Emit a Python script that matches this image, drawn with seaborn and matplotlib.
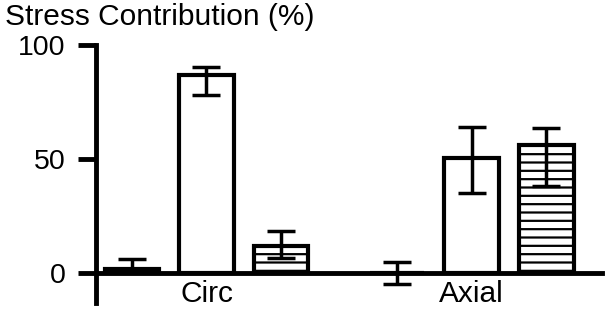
import numpy as np
import pandas as pd
import matplotlib
matplotlib.use("Agg")
import matplotlib.pyplot as plt
import seaborn as sns

# Data
kelompok = ["Circ", "Axial"]
seri = ["A", "B", "C"]
circ_mean = [1.5, 87, 12]
circ_lo = [1.5, 78, 6.5]
circ_hi = [6, 90.5, 18.5]
axial_mean = [0, 50.5, 56]
axial_lo = [-5, 35, 38]
axial_hi = [5, 64, 63.5]
yticks = [0, 50, 100]

df = pd.DataFrame({
    "kelompok": ["Circ"] * 3 + ["Axial"] * 3,
    "seri": seri * 2,
    "nilai": circ_mean + axial_mean,
    "lo": circ_lo + axial_lo,
    "hi": circ_hi + axial_hi,
})

sns.set_style("ticks")
plt.rcParams["font.family"] = ["Liberation Sans", "DejaVu Sans"]
plt.rcParams["hatch.color"] = "black"
plt.rcParams["hatch.linewidth"] = 1.6
for k in ["axes.edgecolor", "xtick.color", "ytick.color", "text.color",
          "axes.labelcolor"]:
    plt.rcParams[k] = "black"

fig = plt.figure(figsize=(6.07, 3.13), dpi=100)
ax = fig.add_axes([0.158, 0.032, 0.834, 0.824])

sns.barplot(data=df, x="kelompok", y="nilai", hue="seri", order=kelompok,
            hue_order=seri, palette=["white"] * 3, edgecolor="black",
            linewidth=3, width=0.845, gap=0.27, errorbar=None,
            legend=False, ax=ax)

bar_conts = list(ax.containers)

# hatch garis horizontal untuk seri ketiga
for bar in bar_conts[2]:
    bar.set_hatch("--")

# error bar asimetris
for i, cont in enumerate(bar_conts):
    for j, bar in enumerate(cont):
        row = df[(df["kelompok"] == kelompok[j]) & (df["seri"] == seri[i])].iloc[0]
        x = bar.get_x() + bar.get_width() / 2
        m = row["nilai"]
        ax.errorbar(x, m, yerr=[[m - row["lo"]], [row["hi"] - m]], fmt="none",
                    ecolor="black", elinewidth=2.5, capsize=10, capthick=2.5,
                    zorder=5)

ax.set_xlim(-0.417, 1.492)
ax.set_ylim(-13.2, 100)
ax.set_yticks(yticks)
ax.set_xlabel("")
ax.set_ylabel("")
ax.spines["bottom"].set_position(("data", 0))
ax.spines["bottom"].set_zorder(6)
for s in ["left", "bottom"]:
    ax.spines[s].set_linewidth(3.5)
for s in ["top", "right"]:
    ax.spines[s].set_visible(False)
ax.tick_params(axis="y", length=13, width=3.5, pad=9, labelsize=20.5)
ax.tick_params(axis="x", length=0, pad=5, labelsize=21.5)

fig.text(0.008, 0.99, "Stress Contribution (%)", fontsize=21.5, va="top", ha="left")

plt.savefig("out.png", dpi=100)
